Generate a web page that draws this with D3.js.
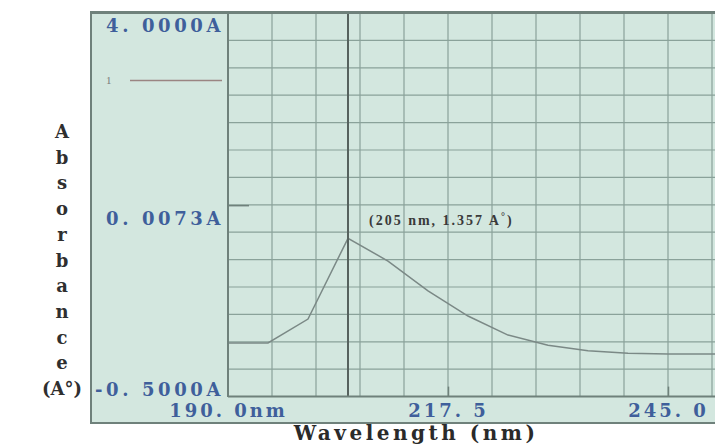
<!DOCTYPE html>
<html>
<head>
<meta charset="utf-8">
<script src="https://cdn.jsdelivr.net/npm/d3@7"></script>
<style>
  body { margin: 0; background: #fff; }
  svg { display: block; }
</style>
</head>
<body>
<svg width="715" height="445"></svg>
<script>
// spectrum (nm, A)
var wavelengths = [190, 195, 200, 205, 210, 215, 220, 225, 230, 235, 240, 245, 250, 251];
var absorbance  = [0.13, 0.13, 0.41, 1.357, 1.09, 0.74, 0.445, 0.222, 0.102, 0.038, 0.008, 0.0, 0.0, 0.0];

var xTickValues = [190, 217.5, 245];
var xTickLabels = ["190. 0nm", "217. 5", "245. 0"];
var yTickValues = [4.0, 1.74, -0.5];
var yTickLabels = ["4. 0000A", "0. 0073A", "-0. 5000A"];

var peakNm = 205, peakAbs = 1.357;
var yTitle = ["A", "b", "s", "o", "r", "b", "a", "n", "c", "e", "(A°)"];

var svg = d3.select("svg");
var bg = "#d3e7df", gridCol = "#8aa29a", frameCol = "#6f817b", blue = "#3f5f9b";

var x = d3.scaleLinear().domain([190, 245]).range([228, 668]);
var y = d3.scaleLinear().domain([-0.5, 4.0]).range([396.6, 13]);

// panel
svg.append("rect").attr("x", 91).attr("y", 12).attr("width", 640).attr("height", 411)
  .style("fill", bg).style("stroke", frameCol).style("stroke-width", 2);

svg.append("clipPath").attr("id", "plot")
  .append("rect").attr("x", 228).attr("y", 13).attr("width", 500).attr("height", 383.6);

var plot = svg.append("g").attr("clip-path", "url(#plot)");

// grid
plot.selectAll("line.vg").data(d3.range(190, 252, 5.5)).enter().append("line")
  .attr("x1", d => x(d)).attr("x2", d => x(d)).attr("y1", 13).attr("y2", 396.6)
  .style("stroke", gridCol).style("stroke-width", 1.2);
plot.selectAll("line.hg").data(d3.range(0, 15).map(k => -0.5 + k * 4.5 / 14)).enter().append("line")
  .attr("x1", 228).attr("x2", 715).attr("y1", d => y(d)).attr("y2", d => y(d))
  .style("stroke", gridCol).style("stroke-width", 1.2);

// cursor at peak
svg.append("line").attr("x1", x(peakNm)).attr("x2", x(peakNm)).attr("y1", 13).attr("y2", 396.6)
  .style("stroke", "#56625e").style("stroke-width", 2);

// trace
var pts = wavelengths.map((w, i) => [w, absorbance[i]]);
plot.append("path").datum(pts)
  .attr("d", d3.line().x(d => x(d[0])).y(d => y(d[1])))
  .style("fill", "none").style("stroke", "#7b8986").style("stroke-width", 1.5);

// plot frame
svg.append("line").attr("x1", 228).attr("x2", 228).attr("y1", 12).attr("y2", 397)
  .style("stroke", frameCol).style("stroke-width", 2);
svg.append("line").attr("x1", 91).attr("x2", 715).attr("y1", 13).attr("y2", 13)
  .style("stroke", frameCol).style("stroke-width", 2);

// x axis
var xAxis = d3.axisBottom(x).tickValues(xTickValues).tickSize(-10).tickPadding(8)
  .tickFormat((d, i) => xTickLabels[i]);
var gx = svg.append("g").attr("transform", "translate(0,396.6)").call(xAxis);
gx.select(".domain").attr("d", "M228,0H715").style("stroke", frameCol).style("stroke-width", 2);
gx.selectAll(".tick line").style("stroke", frameCol).style("stroke-width", 1.5)
  .filter((d, i) => i === 0).remove();
gx.selectAll(".tick text")
  .style("font-family", "DejaVu Serif").style("font-weight", "bold").style("font-size", "18px")
  .style("letter-spacing", "3px").style("fill", blue);

// y labels
yTickValues.forEach(function(v, i) {
  var dy = i === 2 ? "-0.05em" : "1.05em";
  svg.append("text").attr("x", 224).attr("y", y(v)).attr("dy", dy)
    .attr("text-anchor", "end")
    .style("font-family", "DejaVu Serif").style("font-weight", "bold").style("font-size", "18px")
    .style("letter-spacing", "3.6px").style("fill", blue).text(yTickLabels[i]);
});
svg.append("line").attr("x1", 228).attr("x2", 249).attr("y1", y(yTickValues[1])).attr("y2", y(yTickValues[1]))
  .style("stroke", frameCol).style("stroke-width", 1.5);

// legend
svg.append("text").attr("x", 106).attr("y", 84).text("1")
  .style("font-family", "Liberation Serif").style("font-size", "11px").style("fill", "#7a7a7a");
svg.append("line").attr("x1", 130).attr("x2", 222).attr("y1", 80.5).attr("y2", 80.5)
  .style("stroke", "#9a8582").style("stroke-width", 1.6);

// peak annotation
var ann = svg.append("text").attr("x", x(peakNm) + 21).attr("y", 225)
  .style("font-family", "Liberation Serif").style("font-weight", "bold").style("font-size", "14px")
  .style("letter-spacing", "2px").style("fill", "#3a3a3a");
ann.append("tspan").text("(" + peakNm + " nm, " + peakAbs + " A");
ann.append("tspan").attr("dy", -5).style("font-size", "10px").text("°");
ann.append("tspan").attr("dy", 5).text(")");

// axis titles
svg.selectAll("text.yt").data(yTitle).enter().append("text")
  .attr("x", 62).attr("y", (d, i) => 138 + i * 25.7)
  .attr("text-anchor", "middle")
  .style("font-family", "DejaVu Serif").style("font-weight", "bold").style("font-size", "18px")
  .style("fill", "#2f2f2f").text(d => d);

svg.append("text").attr("x", 416).attr("y", 440).attr("text-anchor", "middle")
  .style("font-family", "DejaVu Serif").style("font-weight", "bold").style("font-size", "20px")
  .style("letter-spacing", "3.5px").style("fill", "#2a2a2a").text("Wavelength (nm)");
</script>
</body>
</html>
